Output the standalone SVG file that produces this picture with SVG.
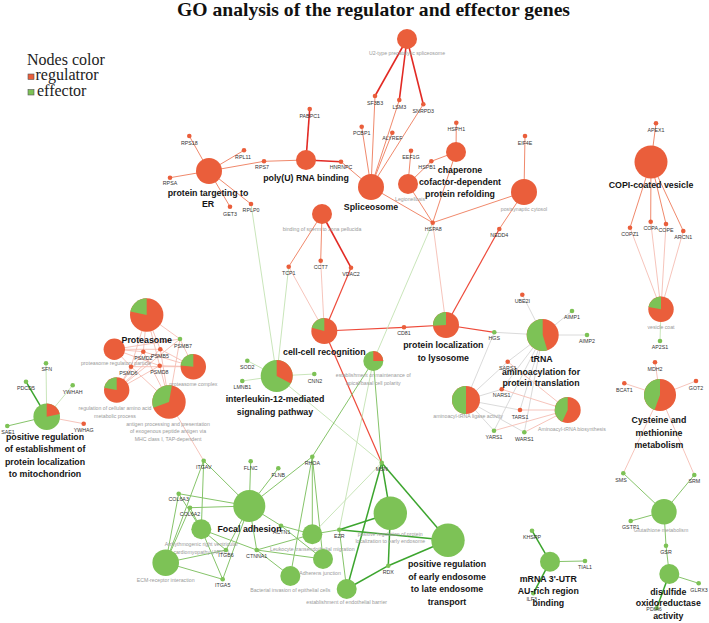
<svg xmlns="http://www.w3.org/2000/svg" width="709" height="623" viewBox="0 0 709 623">
<style>
.r{fill:#EA5E3B}.g{fill:#7DC256}
.gl{font-family:"Liberation Sans",Arial,sans-serif;font-size:5.3px;fill:#333;text-anchor:middle}
.tl{font-family:"Liberation Sans",Arial,sans-serif;font-size:5.2px;fill:#9a9a9a;text-anchor:middle}
.bl{font-family:"Liberation Sans",Arial,sans-serif;font-size:8.8px;font-weight:bold;fill:#151515;text-anchor:middle}
.dr{stroke:#E22A24;stroke-width:1.6}.rd{stroke:#EE4A3A;stroke-width:1.2}.o{stroke:#F0896C;stroke-width:1}.p{stroke:#F5BDB3;stroke-width:0.9}
.dg{stroke:#3CA52E;stroke-width:1.5}.gg{stroke:#86C46A;stroke-width:1}.lg{stroke:#C3E2B2;stroke-width:0.9}.gr{stroke:#D6D6D6;stroke-width:0.9}
</style>
<rect width="709" height="623" fill="#fff"/>
<text x="373.5" y="16" font-family="Liberation Serif,Times New Roman,serif" font-size="19.5" font-weight="bold" text-anchor="middle" textLength="393" lengthAdjust="spacingAndGlyphs" fill="#111">GO analysis of the regulator and effector genes</text>
<g id="legend" font-family="Liberation Serif,Times New Roman,serif" font-size="16" fill="#222">
<text x="27" y="64.5">Nodes color</text>
<rect x="28" y="74" width="6" height="5.5" fill="#EA5E3B" stroke="#555" stroke-width="0.6"/>
<text x="35.5" y="80">regulatror</text>
<rect x="28" y="89.5" width="6" height="5.5" fill="#7DC256" stroke="#555" stroke-width="0.6"/>
<text x="37" y="96">effector</text>
</g>
<g id="edges">
<line class="dr" x1="407" y1="39" x2="375" y2="96"/>
<line class="dr" x1="407" y1="39" x2="399.3" y2="100"/>
<line class="dr" x1="407" y1="39" x2="423.3" y2="104.3"/>
<line class="o" x1="371" y1="187" x2="375" y2="96"/>
<line class="o" x1="371" y1="187" x2="399.3" y2="100"/>
<line class="o" x1="371" y1="187" x2="423.3" y2="104.3"/>
<line class="o" x1="371" y1="187" x2="361.7" y2="126.7"/>
<line class="o" x1="371" y1="187" x2="392.3" y2="132.7"/>
<line class="o" x1="371" y1="187" x2="341" y2="161.7"/>
<line class="o" x1="371" y1="187" x2="432.7" y2="222.7"/>
<line class="dr" x1="306" y1="160" x2="309.7" y2="109"/>
<line class="dr" x1="306" y1="160" x2="341" y2="161.7"/>
<line class="o" x1="306" y1="160" x2="264" y2="161.3"/>
<line class="o" x1="209" y1="171" x2="189.3" y2="136"/>
<line class="o" x1="209" y1="171" x2="244" y2="150.3"/>
<line class="o" x1="209" y1="171" x2="264" y2="161.3"/>
<line class="o" x1="209" y1="171" x2="170" y2="177.7"/>
<line class="o" x1="209" y1="171" x2="251" y2="204"/>
<line class="o" x1="209" y1="171" x2="230" y2="206.7"/>
<line class="o" x1="408" y1="184" x2="411" y2="150.7"/>
<line class="o" x1="408" y1="184" x2="431.3" y2="161.3"/>
<line class="o" x1="408" y1="184" x2="432.7" y2="222.7"/>
<line class="o" x1="456" y1="152" x2="456.3" y2="122.7"/>
<line class="o" x1="456" y1="152" x2="431.3" y2="161.3"/>
<line class="o" x1="456" y1="152" x2="432.7" y2="222.7"/>
<line class="o" x1="524" y1="192" x2="525" y2="136"/>
<line class="o" x1="524" y1="192" x2="432.7" y2="222.7"/>
<line class="o" x1="524" y1="192" x2="499.3" y2="229"/>
<line class="o" x1="651" y1="162" x2="656" y2="123.3"/>
<line class="o" x1="651" y1="162" x2="630" y2="227.7"/>
<line class="o" x1="651" y1="162" x2="650.7" y2="221.7"/>
<line class="o" x1="651" y1="162" x2="666" y2="224"/>
<line class="o" x1="651" y1="162" x2="683.3" y2="231"/>
<line class="p" x1="661" y1="309.3" x2="630" y2="227.7"/>
<line class="p" x1="661" y1="309.3" x2="650.7" y2="221.7"/>
<line class="p" x1="661" y1="309.3" x2="666" y2="224"/>
<line class="p" x1="661" y1="309.3" x2="683.3" y2="231"/>
<line class="lg" x1="661" y1="309.3" x2="660" y2="341"/>
<line class="o" x1="322" y1="214" x2="288.7" y2="266.7"/>
<line class="o" x1="322" y1="214" x2="320.7" y2="260.7"/>
<line class="dr" x1="322" y1="214" x2="351" y2="267.7"/>
<line class="p" x1="324.3" y1="331" x2="288.7" y2="266.7"/>
<line class="p" x1="324.3" y1="331" x2="320.7" y2="260.7"/>
<line class="rd" x1="324.3" y1="331" x2="351" y2="267.7"/>
<line class="rd" x1="324.3" y1="331" x2="404" y2="327.3"/>
<line class="rd" x1="324.3" y1="331" x2="381.7" y2="462.7"/>
<line class="rd" x1="446" y1="325" x2="404" y2="327.3"/>
<line class="p" x1="446" y1="325" x2="432.7" y2="222.7"/>
<line class="rd" x1="446" y1="325" x2="499.3" y2="229"/>
<line class="rd" x1="446" y1="325" x2="494.3" y2="332.3"/>
<line class="lg" x1="432.7" y1="222.7" x2="373.3" y2="361"/>
<line class="lg" x1="251" y1="204" x2="276.7" y2="376"/>
<line class="lg" x1="288.7" y1="266.7" x2="276.7" y2="376"/>
<line class="lg" x1="276.7" y1="376" x2="247.3" y2="360.7"/>
<line class="lg" x1="276.7" y1="376" x2="242.3" y2="381"/>
<line class="lg" x1="276.7" y1="376" x2="314.3" y2="374"/>
<line class="lg" x1="276.7" y1="376" x2="381.7" y2="462.7"/>
<line class="gg" x1="373.3" y1="361" x2="381.7" y2="462.7"/>
<line class="gg" x1="373.3" y1="361" x2="312.3" y2="456.7"/>
<line class="lg" x1="373.3" y1="361" x2="339.3" y2="529.7"/>
<line class="gr" x1="542.7" y1="335" x2="522.3" y2="294.7"/>
<line class="gr" x1="542.7" y1="335" x2="572" y2="311"/>
<line class="gr" x1="542.7" y1="335" x2="587" y2="335"/>
<line class="gr" x1="542.7" y1="335" x2="494.3" y2="332.3"/>
<line class="gr" x1="542.7" y1="335" x2="507.7" y2="361.7"/>
<line class="gr" x1="542.7" y1="335" x2="501.7" y2="389.3"/>
<line class="gr" x1="542.7" y1="335" x2="520" y2="410"/>
<line class="gr" x1="542.7" y1="335" x2="494" y2="430.7"/>
<line class="gr" x1="542.7" y1="335" x2="524.3" y2="432.3"/>
<line class="gr" x1="494.3" y1="332.3" x2="466" y2="400"/>
<line class="gr" x1="466" y1="400" x2="507.7" y2="361.7"/>
<line class="gr" x1="466" y1="400" x2="501.7" y2="389.3"/>
<line class="gr" x1="466" y1="400" x2="520" y2="410"/>
<line class="gr" x1="466" y1="400" x2="494" y2="430.7"/>
<line class="gr" x1="466" y1="400" x2="524.3" y2="432.3"/>
<line class="p" x1="567.7" y1="410" x2="507.7" y2="361.7"/>
<line class="p" x1="567.7" y1="410" x2="501.7" y2="389.3"/>
<line class="p" x1="567.7" y1="410" x2="520" y2="410"/>
<line class="p" x1="567.7" y1="410" x2="494" y2="430.7"/>
<line class="p" x1="567.7" y1="410" x2="524.3" y2="432.3"/>
<line class="p" x1="660" y1="395" x2="655" y2="362.3"/>
<line class="p" x1="660" y1="395" x2="624.3" y2="383.3"/>
<line class="p" x1="660" y1="395" x2="696" y2="381"/>
<line class="p" x1="660" y1="395" x2="623.3" y2="473.3"/>
<line class="p" x1="660" y1="395" x2="694.3" y2="475"/>
<line class="gg" x1="664" y1="511.7" x2="623.3" y2="473.3"/>
<line class="gg" x1="664" y1="511.7" x2="694.3" y2="475"/>
<line class="gg" x1="664" y1="511.7" x2="630.7" y2="521"/>
<line class="gg" x1="664" y1="511.7" x2="666" y2="545.7"/>
<line class="gg" x1="669.3" y1="574" x2="666" y2="545.7"/>
<line class="gg" x1="669.3" y1="574" x2="698.7" y2="583.3"/>
<line class="dg" x1="669.3" y1="574" x2="656.7" y2="608.3"/>
<line class="dg" x1="550" y1="561.7" x2="532" y2="530.7"/>
<line class="gg" x1="550" y1="561.7" x2="585" y2="561"/>
<line class="dg" x1="550" y1="561.7" x2="533.3" y2="593.3"/>
<line class="p" x1="146.7" y1="315" x2="180" y2="339"/>
<line class="p" x1="146.7" y1="315" x2="143.3" y2="351.7"/>
<line class="p" x1="146.7" y1="315" x2="160.3" y2="349.3"/>
<line class="p" x1="146.7" y1="315" x2="131" y2="366.7"/>
<line class="p" x1="146.7" y1="315" x2="159.7" y2="365.7"/>
<line class="p" x1="114.3" y1="349.3" x2="180" y2="339"/>
<line class="p" x1="114.3" y1="349.3" x2="143.3" y2="351.7"/>
<line class="p" x1="114.3" y1="349.3" x2="160.3" y2="349.3"/>
<line class="p" x1="114.3" y1="349.3" x2="131" y2="366.7"/>
<line class="p" x1="114.3" y1="349.3" x2="159.7" y2="365.7"/>
<line class="p" x1="193.3" y1="366.7" x2="180" y2="339"/>
<line class="p" x1="193.3" y1="366.7" x2="143.3" y2="351.7"/>
<line class="p" x1="193.3" y1="366.7" x2="160.3" y2="349.3"/>
<line class="p" x1="193.3" y1="366.7" x2="131" y2="366.7"/>
<line class="p" x1="193.3" y1="366.7" x2="159.7" y2="365.7"/>
<line class="p" x1="116.7" y1="390" x2="180" y2="339"/>
<line class="p" x1="116.7" y1="390" x2="143.3" y2="351.7"/>
<line class="p" x1="116.7" y1="390" x2="160.3" y2="349.3"/>
<line class="p" x1="116.7" y1="390" x2="131" y2="366.7"/>
<line class="p" x1="116.7" y1="390" x2="159.7" y2="365.7"/>
<line class="p" x1="169" y1="402" x2="180" y2="339"/>
<line class="p" x1="169" y1="402" x2="143.3" y2="351.7"/>
<line class="p" x1="169" y1="402" x2="160.3" y2="349.3"/>
<line class="p" x1="169" y1="402" x2="131" y2="366.7"/>
<line class="p" x1="169" y1="402" x2="159.7" y2="365.7"/>
<line class="p" x1="169" y1="402" x2="203.7" y2="460.7"/>
<line class="lg" x1="46.7" y1="416.7" x2="46" y2="363.3"/>
<line class="dg" x1="46.7" y1="416.7" x2="26" y2="381.7"/>
<line class="lg" x1="46.7" y1="416.7" x2="72.7" y2="385.3"/>
<line class="gg" x1="46.7" y1="416.7" x2="7.3" y2="426"/>
<line class="p" x1="46.7" y1="416.7" x2="83.7" y2="423.7"/>
<line class="gg" x1="203.7" y1="460.7" x2="249.3" y2="506"/>
<line class="gg" x1="203.7" y1="460.7" x2="165.7" y2="562.7"/>
<line class="gg" x1="203.7" y1="460.7" x2="201.3" y2="529.3"/>
<line class="gg" x1="178.7" y1="493.7" x2="249.3" y2="506"/>
<line class="gg" x1="178.7" y1="493.7" x2="165.7" y2="562.7"/>
<line class="gg" x1="178.7" y1="493.7" x2="201.3" y2="529.3"/>
<line class="gg" x1="190" y1="507.7" x2="249.3" y2="506"/>
<line class="gg" x1="190" y1="507.7" x2="165.7" y2="562.7"/>
<line class="gg" x1="190" y1="507.7" x2="201.3" y2="529.3"/>
<line class="gg" x1="226" y1="550" x2="249.3" y2="506"/>
<line class="gg" x1="226" y1="550" x2="165.7" y2="562.7"/>
<line class="gg" x1="226" y1="550" x2="201.3" y2="529.3"/>
<line class="gg" x1="222.7" y1="579.3" x2="249.3" y2="506"/>
<line class="gg" x1="222.7" y1="579.3" x2="165.7" y2="562.7"/>
<line class="gg" x1="222.7" y1="579.3" x2="201.3" y2="529.3"/>
<line class="gg" x1="250.7" y1="461.3" x2="249.3" y2="506"/>
<line class="gg" x1="278.3" y1="468.3" x2="249.3" y2="506"/>
<line class="gg" x1="312.3" y1="456.7" x2="249.3" y2="506"/>
<line class="gg" x1="312.3" y1="456.7" x2="312.3" y2="534.3"/>
<line class="gg" x1="312.3" y1="456.7" x2="323" y2="559"/>
<line class="gg" x1="312.3" y1="456.7" x2="290.3" y2="576"/>
<line class="gg" x1="281" y1="525.7" x2="249.3" y2="506"/>
<line class="gg" x1="281" y1="525.7" x2="312.3" y2="534.3"/>
<line class="gg" x1="281" y1="525.7" x2="323" y2="559"/>
<line class="gg" x1="256.7" y1="550" x2="249.3" y2="506"/>
<line class="gg" x1="256.7" y1="550" x2="312.3" y2="534.3"/>
<line class="gg" x1="256.7" y1="550" x2="323" y2="559"/>
<line class="gg" x1="256.7" y1="550" x2="290.3" y2="576"/>
<line class="gg" x1="256.7" y1="550" x2="201.3" y2="529.3"/>
<line class="gg" x1="339.3" y1="529.7" x2="312.3" y2="534.3"/>
<line class="dg" x1="339.3" y1="529.7" x2="390.3" y2="513.3"/>
<line class="dg" x1="339.3" y1="529.7" x2="448" y2="540.3"/>
<line class="gg" x1="339.3" y1="529.7" x2="346.7" y2="589"/>
<line class="lg" x1="381.7" y1="462.7" x2="312.3" y2="534.3"/>
<line class="dg" x1="381.7" y1="462.7" x2="390.3" y2="513.3"/>
<line class="dg" x1="381.7" y1="462.7" x2="448" y2="540.3"/>
<line class="dg" x1="381.7" y1="462.7" x2="346.7" y2="589"/>
<line class="dg" x1="388.3" y1="565.7" x2="390.3" y2="513.3"/>
<line class="dg" x1="388.3" y1="565.7" x2="448" y2="540.3"/>
<line class="dg" x1="388.3" y1="565.7" x2="346.7" y2="589"/>
</g>
<g id="term-u2"><circle class="r" cx="407" cy="39" r="10"/><text class="tl" x="407" y="55">U2-type precatalytic spliceosome</text></g>
<g id="term-legionellosis"><circle class="r" cx="408" cy="184" r="10"/><text class="tl" x="410" y="201">Legionellosis</text></g>
<g id="term-chaperone"><circle class="r" cx="456" cy="152" r="10"/></g>
<g id="term-postsynaptic"><circle class="r" cx="524" cy="192" r="13"/><text class="tl" x="524" y="211">postsynaptic cytosol</text></g>
<g id="term-polyU"><circle class="r" cx="306" cy="160" r="10"/><text class="bl" x="306" y="181">poly(U) RNA binding</text></g>
<g id="term-ptER"><circle class="r" cx="209" cy="171" r="13"/><text class="bl" x="208" y="195.5">protein targeting to</text><text class="bl" x="208" y="207">ER</text></g>
<g id="term-spliceosome"><circle class="r" cx="371" cy="187" r="13"/><text class="bl" x="371" y="210">Spliceosome</text></g>
<g id="term-copi"><circle class="r" cx="651" cy="162" r="16.5"/><text class="bl" x="651" y="188">COPI-coated vesicle</text></g>
<g id="term-sperm"><circle class="r" cx="322" cy="214" r="10"/><text class="tl" x="322" y="231">binding of sperm to zona pellucida</text></g>
<g id="term-vesicle"><circle class="r" cx="661" cy="309.3" r="12.7"/><path class="g" d="M661,309.3 L648.49,307.1 A12.7,12.7 0 0 1 661,296.6 Z"/><text class="tl" x="661" y="329">vesicle coat</text></g>
<g id="term-cellcell"><circle class="r" cx="324.3" cy="331" r="13"/><path class="g" d="M324.3,331 L311.74,327.64 A13,13 0 0 1 324.3,318 Z"/></g>
<g id="term-lysosome"><circle class="r" cx="446" cy="325" r="13"/><path class="g" d="M446,325 L433.02,325.68 A13,13 0 0 1 446,312 Z"/></g>
<g id="term-trna"><circle class="r" cx="542.7" cy="335" r="16"/><path class="g" d="M542.7,335 L547.38,350.3 A16,16 0 1 1 542.7,319 Z"/></g>
<g id="term-ligase"><circle class="r" cx="466" cy="400" r="14"/><path class="g" d="M466,400 L466,414 A14,14 0 0 1 466,386 Z"/><text class="tl" x="468" y="418">aminoacyl-tRNA ligase activity</text></g>
<g id="term-biosynthesis"><circle class="r" cx="567.7" cy="410" r="13"/><path class="g" d="M567.7,410 L562.21,421.78 A13,13 0 0 1 567.7,397 Z"/><text class="tl" x="572" y="430.5">Aminoacyl-tRNA biosynthesis</text></g>
<g id="term-cysteine"><circle class="r" cx="660" cy="395" r="16"/><path class="g" d="M660,395 L654.53,410.04 A16,16 0 0 1 660,379 Z"/></g>
<g id="term-establishment"><circle class="g" cx="373.3" cy="361" r="10"/><path class="r" d="M373.3,361 L373.3,351 A10,10 0 0 1 383.3,361 Z"/><text class="tl" x="373.3" y="376.5">establishment or maintenance of</text><text class="tl" x="373.3" y="385">apical/basal cell polarity</text></g>
<g id="term-il12"><circle class="g" cx="276.7" cy="376" r="16"/><path class="r" d="M276.7,376 L276.7,360 A16,16 0 0 1 290.83,383.51 Z"/></g>
<g id="term-proteasome"><circle class="r" cx="146.7" cy="315" r="16.7"/><path class="g" d="M146.7,315 L130.37,311.53 A16.7,16.7 0 0 1 146.7,298.3 Z"/></g>
<g id="term-protreg"><circle class="r" cx="114.3" cy="349.3" r="10.7"/><text class="tl" x="116" y="365">proteasome regulatory particle</text></g>
<g id="term-protcomplex"><circle class="r" cx="193.3" cy="366.7" r="12.7"/><path class="g" d="M193.3,366.7 L180.65,365.59 A12.7,12.7 0 0 1 193.3,354 Z"/><text class="tl" x="193.3" y="386">proteasome complex</text></g>
<g id="term-regaa"><circle class="r" cx="116.7" cy="390" r="12.7"/><path class="g" d="M116.7,390 L104.19,387.8 A12.7,12.7 0 0 1 116.7,377.3 Z"/><text class="tl" x="115" y="409.5">regulation of cellular amino acid</text><text class="tl" x="115" y="417.5">metabolic process</text></g>
<g id="term-antigen"><circle class="r" cx="169" cy="402" r="16.7"/><path class="g" d="M169,402 L153.31,407.71 A16.7,16.7 0 0 1 171.9,385.55 Z"/><text class="tl" x="168" y="425.5">antigen processing and presentation</text><text class="tl" x="168" y="433">of exogenous peptide antigen via</text><text class="tl" x="168" y="440.5">MHC class I, TAP-dependent</text></g>
<g id="term-posmito"><circle class="g" cx="46.7" cy="416.7" r="13.3"/><path class="r" d="M46.7,416.7 L46.7,403.4 A13.3,13.3 0 0 1 59.71,413.93 Z"/></g>
<g id="term-arvc"><circle class="g" cx="201.3" cy="529.3" r="10"/><text class="tl" x="201.3" y="546">Arrhythmogenic right ventricular</text><text class="tl" x="201.3" y="553.7">cardiomyopathy (ARVC)</text></g>
<g id="term-ecm"><circle class="g" cx="165.7" cy="562.7" r="13.3"/><text class="tl" x="165.7" y="582">ECM-receptor interaction</text></g>
<g id="term-focal"><circle class="g" cx="249.3" cy="506" r="16"/></g>
<g id="term-leuko"><circle class="g" cx="312.3" cy="534.3" r="10"/><text class="tl" x="312.3" y="550.7">Leukocyte transendothelial migration</text></g>
<g id="term-adherens"><circle class="g" cx="323" cy="559" r="10"/><text class="tl" x="320" y="574.7">Adherens junction</text></g>
<g id="term-bacterial"><circle class="g" cx="290.3" cy="576" r="10"/><text class="tl" x="290.3" y="592">Bacterial invasion of epithelial cells</text></g>
<g id="term-posprotloc"><circle class="g" cx="390.3" cy="513.3" r="16.7"/><text class="tl" x="390.3" y="536">positive regulation of protein</text><text class="tl" x="390.3" y="543.3">localization to early endosome</text></g>
<g id="term-endobarrier"><circle class="g" cx="346.7" cy="589" r="10"/><text class="tl" x="346.7" y="604.3">establishment of endothelial barrier</text></g>
<g id="term-earlylate"><circle class="g" cx="448" cy="540.3" r="16.7"/></g>
<g id="term-mrna"><circle class="g" cx="550" cy="561.7" r="10"/></g>
<g id="term-glutathione"><circle class="g" cx="664" cy="511.7" r="12.7"/><text class="tl" x="661" y="531.5">Glutathione metabolism</text></g>
<g id="term-disulfide"><circle class="g" cx="669.3" cy="574" r="10"/></g>
<g id="genes">
<g id="gene-SF3B3"><circle class="r" cx="375" cy="96" r="2.3"/><text class="gl" x="375" y="104.5">SF3B3</text></g>
<g id="gene-LSM3"><circle class="r" cx="399.3" cy="100" r="2.3"/><text class="gl" x="399.3" y="108.5">LSM3</text></g>
<g id="gene-SNRPD3"><circle class="r" cx="423.3" cy="104.3" r="2.3"/><text class="gl" x="423.3" y="112.5">SNRPD3</text></g>
<g id="gene-PABPC1"><circle class="r" cx="309.7" cy="109" r="2.3"/><text class="gl" x="309.7" y="117.5">PABPC1</text></g>
<g id="gene-PCBP1"><circle class="r" cx="361.7" cy="126.7" r="2.3"/><text class="gl" x="361.7" y="134.5">PCBP1</text></g>
<g id="gene-ALYREF"><circle class="r" cx="392.3" cy="132.7" r="2.3"/><text class="gl" x="392.3" y="140">ALYREF</text></g>
<g id="gene-HSPH1"><circle class="r" cx="456.3" cy="122.7" r="2.3"/><text class="gl" x="456.3" y="131">HSPH1</text></g>
<g id="gene-EEF1G"><circle class="r" cx="411" cy="150.7" r="2.3"/><text class="gl" x="411" y="158.5">EEF1G</text></g>
<g id="gene-HSPB1"><circle class="r" cx="431.3" cy="161.3" r="2.3"/><text class="gl" x="427" y="169">HSPB1</text></g>
<g id="gene-HNRNPC"><circle class="r" cx="341" cy="161.7" r="2.3"/><text class="gl" x="341" y="169">HNRNPC</text></g>
<g id="gene-RPS7"><circle class="r" cx="264" cy="161.3" r="2.3"/><text class="gl" x="262" y="169">RPS7</text></g>
<g id="gene-RPL11"><circle class="r" cx="244" cy="150.3" r="2.3"/><text class="gl" x="243" y="158.7">RPL11</text></g>
<g id="gene-RPS18"><circle class="r" cx="189.3" cy="136" r="2.3"/><text class="gl" x="189.3" y="144.5">RPS18</text></g>
<g id="gene-RPSA"><circle class="r" cx="170" cy="177.7" r="2.3"/><text class="gl" x="170" y="185.3">RPSA</text></g>
<g id="gene-RPLP0"><circle class="r" cx="251" cy="204" r="2.3"/><text class="gl" x="251" y="212">RPLP0</text></g>
<g id="gene-GET3"><circle class="r" cx="230" cy="206.7" r="2.3"/><text class="gl" x="230" y="215.5">GET3</text></g>
<g id="gene-EIF4E"><circle class="r" cx="525" cy="136" r="2.3"/><text class="gl" x="525" y="144.5">EIF4E</text></g>
<g id="gene-APEX1"><circle class="r" cx="656" cy="123.3" r="2.3"/><text class="gl" x="656" y="132">APEX1</text></g>
<g id="gene-COPZ1"><circle class="r" cx="630" cy="227.7" r="2.3"/><text class="gl" x="630" y="236">COPZ1</text></g>
<g id="gene-COPA"><circle class="r" cx="650.7" cy="221.7" r="2.3"/><text class="gl" x="650.7" y="230.3">COPA</text></g>
<g id="gene-COPE"><circle class="r" cx="666" cy="224" r="2.3"/><text class="gl" x="666" y="232">COPE</text></g>
<g id="gene-ARCN1"><circle class="r" cx="683.3" cy="231" r="2.3"/><text class="gl" x="683.3" y="239.3">ARCN1</text></g>
<g id="gene-HSPA8"><circle class="r" cx="432.7" cy="222.7" r="2.3"/><text class="gl" x="433.3" y="231">HSPA8</text></g>
<g id="gene-NEDD4"><circle class="r" cx="499.3" cy="229" r="2.3"/><text class="gl" x="499.3" y="237">NEDD4</text></g>
<g id="gene-TCP1"><circle class="r" cx="288.7" cy="266.7" r="2.3"/><text class="gl" x="288.7" y="274.7">TCP1</text></g>
<g id="gene-CCT7"><circle class="r" cx="320.7" cy="260.7" r="2.3"/><text class="gl" x="320.7" y="268.7">CCT7</text></g>
<g id="gene-VDAC2"><circle class="r" cx="351" cy="267.7" r="2.3"/><text class="gl" x="351" y="276">VDAC2</text></g>
<g id="gene-CD81"><circle class="r" cx="404" cy="327.3" r="2.3"/><text class="gl" x="404" y="335.3">CD81</text></g>
<g id="gene-HGS"><circle class="g" cx="494.3" cy="332.3" r="2.3"/><text class="gl" x="494.3" y="340.3">HGS</text></g>
<g id="gene-UBE2I"><circle class="r" cx="522.3" cy="294.7" r="2.3"/><text class="gl" x="522.3" y="302.7">UBE2I</text></g>
<g id="gene-AIMP1"><circle class="g" cx="572" cy="311" r="2.3"/><text class="gl" x="572" y="319.3">AIMP1</text></g>
<g id="gene-AIMP2"><circle class="g" cx="587" cy="335" r="2.3"/><text class="gl" x="587" y="343.3">AIMP2</text></g>
<g id="gene-SARS1"><circle class="r" cx="507.7" cy="361.7" r="2.3"/><text class="gl" x="507.7" y="369.7">SARS1</text></g>
<g id="gene-NARS1"><circle class="r" cx="501.7" cy="389.3" r="2.3"/><text class="gl" x="501.7" y="397">NARS1</text></g>
<g id="gene-TARS1"><circle class="r" cx="520" cy="410" r="2.3"/><text class="gl" x="520" y="418.7">TARS1</text></g>
<g id="gene-YARS1"><circle class="g" cx="494" cy="430.7" r="2.3"/><text class="gl" x="494" y="439.3">YARS1</text></g>
<g id="gene-WARS1"><circle class="g" cx="524.3" cy="432.3" r="2.3"/><text class="gl" x="524.3" y="441">WARS1</text></g>
<g id="gene-AP2S1"><circle class="g" cx="660" cy="341" r="2.3"/><text class="gl" x="660" y="349.3">AP2S1</text></g>
<g id="gene-MDH2"><circle class="r" cx="655" cy="362.3" r="2.3"/><text class="gl" x="655" y="370.7">MDH2</text></g>
<g id="gene-BCAT1"><circle class="r" cx="624.3" cy="383.3" r="2.3"/><text class="gl" x="624.3" y="392">BCAT1</text></g>
<g id="gene-GOT2"><circle class="r" cx="696" cy="381" r="2.3"/><text class="gl" x="696" y="389.7">GOT2</text></g>
<g id="gene-SMS"><circle class="g" cx="623.3" cy="473.3" r="2.3"/><text class="gl" x="621" y="482">SMS</text></g>
<g id="gene-SRM"><circle class="g" cx="694.3" cy="475" r="2.3"/><text class="gl" x="694.3" y="483">SRM</text></g>
<g id="gene-GSTP1"><circle class="g" cx="630.7" cy="521" r="2.3"/><text class="gl" x="630.7" y="529.3">GSTP1</text></g>
<g id="gene-GSR"><circle class="g" cx="666" cy="545.7" r="2.3"/><text class="gl" x="666" y="554.3">GSR</text></g>
<g id="gene-GLRX3"><circle class="g" cx="698.7" cy="583.3" r="2.3"/><text class="gl" x="699" y="592">GLRX3</text></g>
<g id="gene-PDIA6"><circle class="g" cx="656.7" cy="608.3" r="2.3"/><text class="gl" x="654" y="611">PDIA6</text></g>
<g id="gene-KHSRP"><circle class="g" cx="532" cy="530.7" r="2.3"/><text class="gl" x="532" y="538.7">KHSRP</text></g>
<g id="gene-TIAL1"><circle class="g" cx="585" cy="561" r="2.3"/><text class="gl" x="585" y="569.3">TIAL1</text></g>
<g id="gene-ILF3"><circle class="g" cx="533.3" cy="593.3" r="2.3"/><text class="gl" x="531.7" y="601.3">ILF3</text></g>
<g id="gene-SOD2"><circle class="g" cx="247.3" cy="360.7" r="2.3"/><text class="gl" x="247.3" y="368.7">SOD2</text></g>
<g id="gene-LMNB1"><circle class="g" cx="242.3" cy="381" r="2.3"/><text class="gl" x="242.3" y="389.3">LMNB1</text></g>
<g id="gene-CNN2"><circle class="g" cx="314.3" cy="374" r="2.3"/><text class="gl" x="315" y="382.7">CNN2</text></g>
<g id="gene-PSMB7"><circle class="g" cx="180" cy="339" r="2.3"/><text class="gl" x="183" y="347.5">PSMB7</text></g>
<g id="gene-PSMD2"><circle class="r" cx="143.3" cy="351.7" r="2.3"/><text class="gl" x="143.3" y="359.7">PSMD2</text></g>
<g id="gene-PSMB5"><circle class="r" cx="160.3" cy="349.3" r="2.3"/><text class="gl" x="160" y="357.7">PSMB5</text></g>
<g id="gene-PSMD6"><circle class="r" cx="131" cy="366.7" r="2.3"/><text class="gl" x="128.3" y="374.7">PSMD6</text></g>
<g id="gene-PSMD8"><circle class="r" cx="159.7" cy="365.7" r="2.3"/><text class="gl" x="159.3" y="373.7">PSMD8</text></g>
<g id="gene-SFN"><circle class="g" cx="46" cy="363.3" r="2.3"/><text class="gl" x="46.7" y="371.3">SFN</text></g>
<g id="gene-PDCD5"><circle class="g" cx="26" cy="381.7" r="2.3"/><text class="gl" x="26" y="389.7">PDCD5</text></g>
<g id="gene-YWHAH"><circle class="g" cx="72.7" cy="385.3" r="2.3"/><text class="gl" x="72.7" y="393.7">YWHAH</text></g>
<g id="gene-SAE1"><circle class="g" cx="7.3" cy="426" r="2.3"/><text class="gl" x="8" y="434.3">SAE1</text></g>
<g id="gene-YWHAG"><circle class="r" cx="83.7" cy="423.7" r="2.3"/><text class="gl" x="83.7" y="432">YWHAG</text></g>
<g id="gene-ITGAV"><circle class="g" cx="203.7" cy="460.7" r="2.3"/><text class="gl" x="203.7" y="468.7">ITGAV</text></g>
<g id="gene-COL6A3"><circle class="g" cx="178.7" cy="493.7" r="2.3"/><text class="gl" x="178.7" y="501.3">COL6A3</text></g>
<g id="gene-COL6A2"><circle class="g" cx="190" cy="507.7" r="2.3"/><text class="gl" x="190" y="516">COL6A2</text></g>
<g id="gene-ITGB6"><circle class="g" cx="226" cy="550" r="2.3"/><text class="gl" x="226" y="557.3">ITGB6</text></g>
<g id="gene-ITGA5"><circle class="g" cx="222.7" cy="579.3" r="2.3"/><text class="gl" x="222.7" y="587.3">ITGA5</text></g>
<g id="gene-FLNC"><circle class="g" cx="250.7" cy="461.3" r="2.3"/><text class="gl" x="250.7" y="470">FLNC</text></g>
<g id="gene-FLNB"><circle class="g" cx="278.3" cy="468.3" r="2.3"/><text class="gl" x="278.3" y="477">FLNB</text></g>
<g id="gene-RHOA"><circle class="g" cx="312.3" cy="456.7" r="2.3"/><text class="gl" x="312.3" y="465.3">RHOA</text></g>
<g id="gene-ACTN1"><circle class="g" cx="281" cy="525.7" r="2.3"/><text class="gl" x="281.7" y="533.7">ACTN1</text></g>
<g id="gene-CTNNA1"><circle class="g" cx="256.7" cy="550" r="2.3"/><text class="gl" x="256.7" y="558.3">CTNNA1</text></g>
<g id="gene-EZR"><circle class="g" cx="339.3" cy="529.7" r="2.3"/><text class="gl" x="339.3" y="538">EZR</text></g>
<g id="gene-MSN"><circle class="g" cx="381.7" cy="462.7" r="2.3"/><text class="gl" x="381.7" y="470.7">MSN</text></g>
<g id="gene-RDX"><circle class="g" cx="388.3" cy="565.7" r="2.3"/><text class="gl" x="388.3" y="574">RDX</text></g>
</g>
<g id="bold-labels">
<text class="bl" x="460" y="173">chaperone</text><text class="bl" x="460" y="184.7">cofactor-dependent</text><text class="bl" x="460" y="197">protein refolding</text>
<text class="bl" x="324.3" y="355">cell-cell recognition</text>
<text class="bl" x="146.7" y="343">Proteasome</text>
<text class="bl" x="443.3" y="348">protein localization</text><text class="bl" x="443.3" y="360.7">to lysosome</text>
<text class="bl" x="541.7" y="362.3">tRNA</text><text class="bl" x="541" y="374.7">aminoacylation for</text><text class="bl" x="541" y="386.3">protein translation</text>
<text class="bl" x="275" y="402.3">interleukin-12-mediated</text><text class="bl" x="275" y="414.7">signaling pathway</text>
<text class="bl" x="659" y="423">Cysteine and</text><text class="bl" x="659" y="436.3">methionine</text><text class="bl" x="659" y="448.3">metabolism</text>
<text class="bl" x="45" y="439.7">positive regulation</text><text class="bl" x="45" y="452">of establishment of</text><text class="bl" x="45" y="464.7">protein localization</text><text class="bl" x="45" y="477.3">to mitochondrion</text>
<text class="bl" x="249.5" y="532">Focal adhesion</text>
<text class="bl" x="447" y="567.3">positive regulation</text><text class="bl" x="447" y="579.7">of early endosome</text><text class="bl" x="447" y="592">to late endosome</text><text class="bl" x="447" y="604.7">transport</text>
<text class="bl" x="548.3" y="582">mRNA 3'-UTR</text><text class="bl" x="548.3" y="594">AU-rich region</text><text class="bl" x="548.3" y="606.3">binding</text>
<text class="bl" x="668.3" y="594.7">disulfide</text><text class="bl" x="668.3" y="605.7">oxidoreductase</text><text class="bl" x="668.3" y="618.7">activity</text>
</g>
</svg>
